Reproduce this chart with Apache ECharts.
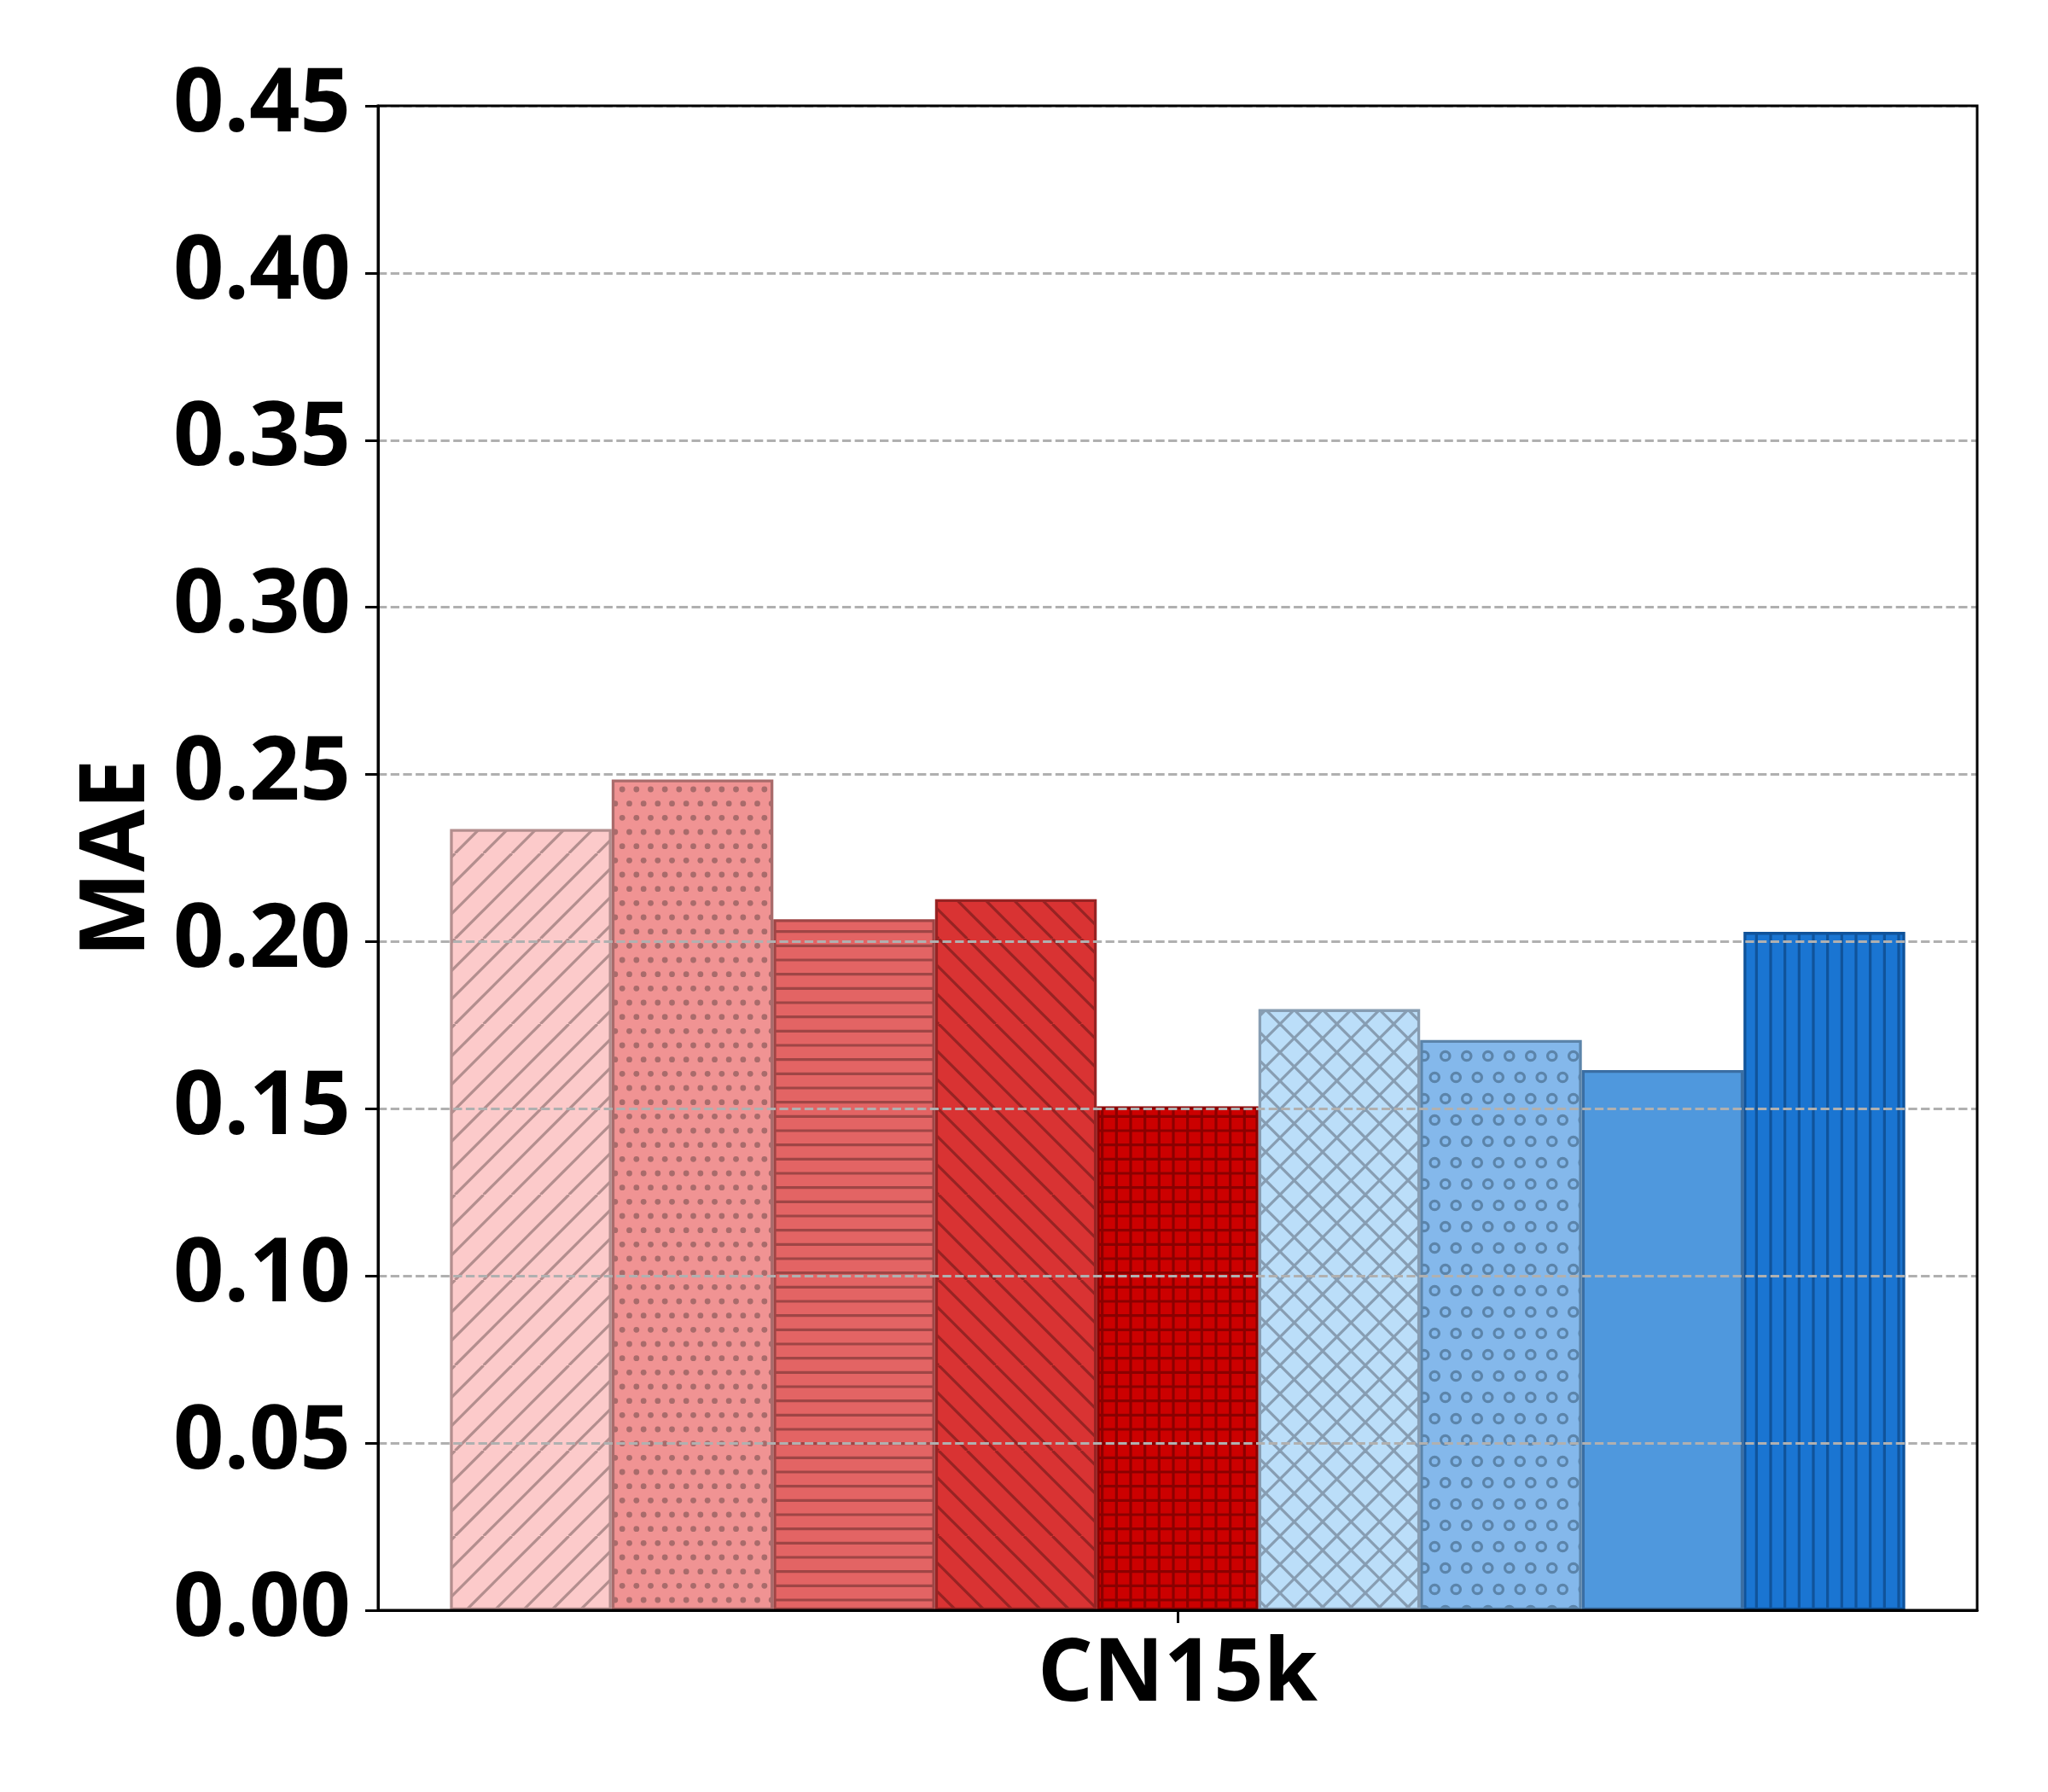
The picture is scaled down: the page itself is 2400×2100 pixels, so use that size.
<!DOCTYPE html>
<html>
<head>
<meta charset="utf-8">
<script src="https://cdn.jsdelivr.net/npm/echarts@6/dist/echarts.min.js"></script>
<style>
  html, body { margin: 0; padding: 0; background: #ffffff; }
  #chart { width: 2400px; height: 2100px; }
</style>
</head>
<body>
<div id="chart"></div>
<script>
// ---- data ----
const categories = ['CN15k'];
const seriesNames = ['Model 1', 'Model 2', 'Model 3', 'Model 4', 'Model 5', 'Model 6', 'Model 7', 'Model 8', 'Model 9'];
const maeValues = [0.2337, 0.2485, 0.2067, 0.2127, 0.1507, 0.1798, 0.1706, 0.1616, 0.2029];
const yAxisTicks = { min: 0, max: 0.45, interval: 0.05 };
const yAxisName = 'MAE';

// ---- styles ----
const fillColors = ['#fccaca', '#f09393', '#e36464', '#d93333', '#cc0000', '#bbdef9', '#84b8eb', '#4f98dd', '#1a75d2'];
const edgeColors = ['#b38e8e', '#a96b6b', '#9f4545', '#972323', '#8b0000', '#879db2', '#5b84aa', '#3a6ea3', '#10539a'];
const hatchKinds = ['diag', 'dots', 'hline', 'back', 'grid', 'cross', 'rings', 'none', 'vline'];

const TILE = 100;
const HLW = 3.2;

function makePattern(fill, stroke, kind) {
  const c = document.createElement('canvas');
  c.width = TILE; c.height = TILE;
  const ctx = c.getContext('2d');
  ctx.fillStyle = fill;
  ctx.fillRect(0, 0, TILE, TILE);
  ctx.strokeStyle = stroke;
  ctx.fillStyle = stroke;
  ctx.lineWidth = HLW;
  ctx.lineCap = 'butt';
  function diag(sp) {
    for (let x = -TILE; x <= TILE + 0.01; x += sp) {
      ctx.beginPath(); ctx.moveTo(x, TILE); ctx.lineTo(x + TILE, 0); ctx.stroke();
    }
  }
  function back(sp) {
    for (let x = -TILE; x <= TILE + 0.01; x += sp) {
      ctx.beginPath(); ctx.moveTo(x, 0); ctx.lineTo(x + TILE, TILE); ctx.stroke();
    }
  }
  function hline(sp) {
    for (let y = sp / 2; y < TILE + 0.01; y += sp) {
      ctx.beginPath(); ctx.moveTo(0, y); ctx.lineTo(TILE, y); ctx.stroke();
    }
  }
  function vline(sp) {
    for (let x = sp / 2; x < TILE + 0.01; x += sp) {
      ctx.beginPath(); ctx.moveTo(x, 0); ctx.lineTo(x, TILE); ctx.stroke();
    }
  }
  function circles(sp, r, filled) {
    const n = Math.round(TILE / sp);
    for (let row = 0; row < n; row++) {
      const y = row * sp + sp / 2;
      const off = (row % 2) ? sp / 2 : 0;
      for (let col = 0; col < n; col++) {
        const x = col * sp + off + sp / 4;
        for (let dx = -TILE; dx <= TILE; dx += TILE) {
          for (let dy = -TILE; dy <= TILE; dy += TILE) {
            ctx.beginPath();
            ctx.arc(x + dx, y + dy, r, 0, Math.PI * 2);
            if (filled) ctx.fill(); else ctx.stroke();
          }
        }
      }
    }
  }
  switch (kind) {
    case 'diag': diag(TILE / 3); break;
    case 'back': back(TILE / 3); break;
    case 'cross': diag(TILE / 3); back(TILE / 3); break;
    case 'hline': hline(TILE / 6); break;
    case 'vline': vline(TILE / 6); break;
    case 'grid': hline(TILE / 6); vline(TILE / 6); break;
    case 'dots': circles(TILE / 6, 3.4, true); break;
    case 'rings': circles(TILE / 4, 5.2, false); break;
    default: break;
  }
  return { image: c, repeat: 'repeat' };
}

const FONT = '"Open Sans", "Liberation Sans", sans-serif';

const series = seriesNames.map((name, i) => ({
  name: name,
  type: 'bar',
  data: [maeValues[i]],
  barGap: '0%',
  barCategoryGap: '9%',
  z: 2,
  itemStyle: {
    color: makePattern(fillColors[i], edgeColors[i], hatchKinds[i]),
    borderColor: edgeColors[i],
    borderWidth: 3.3
  },
  emphasis: { disabled: true }
}));

const chart = echarts.init(document.getElementById('chart'), null, { renderer: 'canvas' });
chart.setOption({
  animation: false,
  backgroundColor: '#ffffff',
  grid: {
    left: 443, right: 83, top: 124, bottom: 213,
    show: true, borderColor: '#000000', borderWidth: 3, z: 6
  },
  xAxis: {
    type: 'category',
    data: categories,
    z: 5,
    axisLine: { show: true, lineStyle: { color: '#000000', width: 3 } },
    axisTick: { show: true, alignWithLabel: true, length: 15, lineStyle: { color: '#000000', width: 3 } },
    axisLabel: { fontFamily: FONT, fontWeight: 'bold', fontSize: 102, color: '#000000', margin: 26 },
    splitLine: { show: false }
  },
  yAxis: {
    type: 'value',
    min: yAxisTicks.min, max: yAxisTicks.max, interval: yAxisTicks.interval,
    z: 4,
    name: yAxisName,
    nameLocation: 'middle',
    nameGap: 238,
    nameTextStyle: { fontFamily: FONT, fontWeight: 'bold', fontSize: 106, color: '#000000' },
    axisLine: { show: true, lineStyle: { color: '#000000', width: 3 } },
    axisTick: { show: true, length: 15, lineStyle: { color: '#000000', width: 3 } },
    axisLabel: {
      fontFamily: FONT, fontWeight: 'bold', fontSize: 104, color: '#000000', margin: 32,
      formatter: v => v.toFixed(2)
    },
    splitLine: { show: true, lineStyle: { color: '#b0b0b0', width: 2.8, type: [10.3, 4.4] } }
  },
  series: series
});
</script>
</body>
</html>
